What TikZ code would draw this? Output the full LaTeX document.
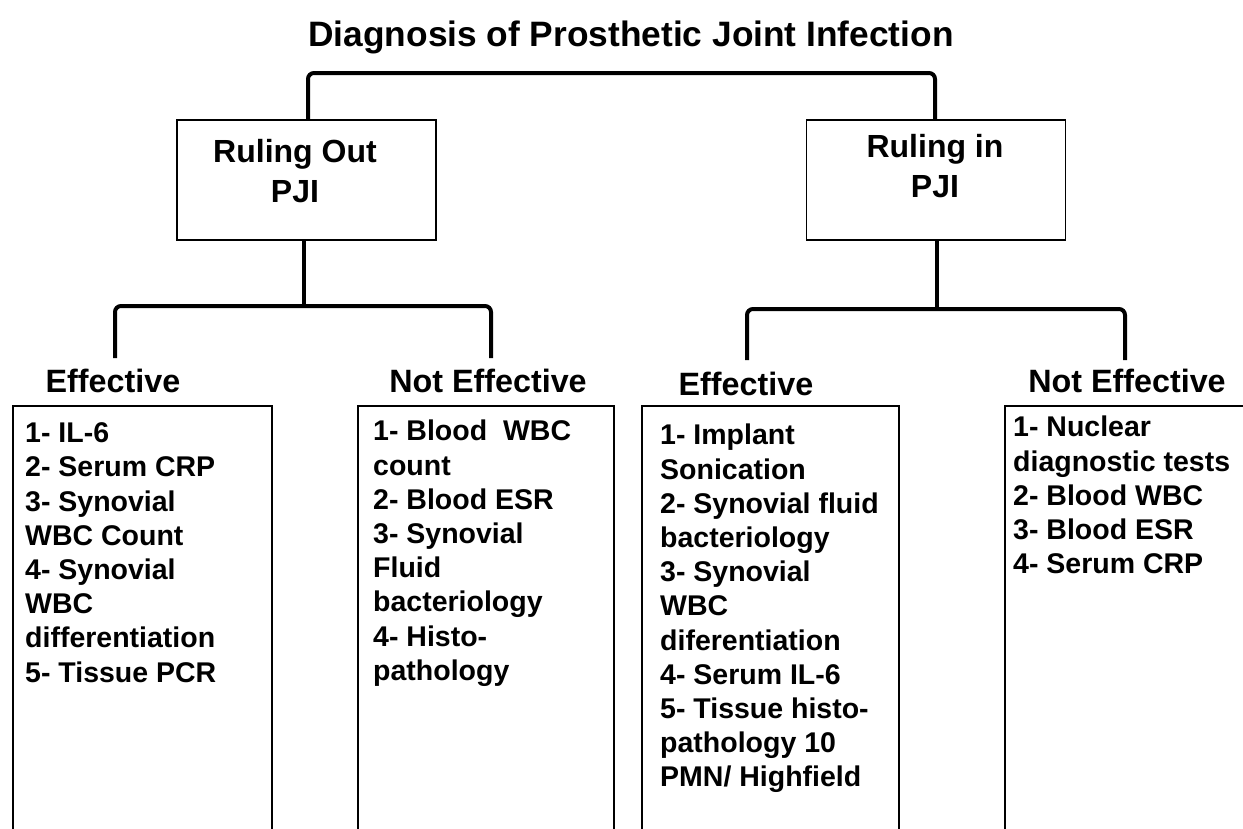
\documentclass[tikz,border=0pt]{standalone}
\usepackage{fontspec}
\setmainfont[Ligatures=NoCommon]{Liberation Sans}
\begin{document}
\begin{tikzpicture}[x=1pt,y=-1pt,
  conn/.style={line width=4pt,rounded corners=6pt},
  rulebox/.style={draw,line width=1.3pt,inner sep=0pt,minimum width=259pt,minimum height=120pt},
  ruletext/.style={inner sep=0pt,anchor=north,align=center,font=\fontsize{32}{40}\selectfont\bfseries},
  heading/.style={inner sep=0pt,anchor=base,font=\fontsize{32.3}{38}\selectfont\bfseries},
  listbox/.style={draw,line width=1.3pt},
  listtext/.style={anchor=north west,align=left,inner sep=0pt,font=\fontsize{28.5}{34.2}\selectfont\bfseries}]
\clip (0,0) rectangle (1243,828);
\fill[white] (0,0) rectangle (1243,828);
% title
\node[inner sep=0pt,font=\fontsize{35.3}{40}\selectfont\bfseries] (title) at (631,37) {Diagnosis of Prosthetic Joint Infection};
% ruling boxes
\node[rulebox] (out) at (306.5,180) {};
\node[ruletext] (outt) at (295,139.6) {Ruling Out\\PJI};
\node[rulebox] (in) at (936,180) {};
\node[ruletext] (intt) at (935,134.6) {Ruling in\\PJI};
% top bracket
\coordinate (tl) at (308,73);
\coordinate (tr) at (935,73);
\draw[conn] (out.north -| tl) -- (tl) -- (tr) -- (in.north -| tr);
% headings
\node[heading] (effL) at (113,392) {Effective};
\node[heading] (neL) at (488,392) {Not Effective};
\node[heading] (effR) at (746,395) {Effective};
\node[heading] (neR) at (1127,392) {Not Effective};
% lower brackets
\coordinate (bl) at (304,306);
\coordinate (br) at (937,309);
\draw[conn,rounded corners=0pt] (out.south -| bl) -- (bl);
\coordinate (bl1) at (115,358);
\coordinate (bl2) at (491,358);
\draw[conn] (bl1) -- (bl -| bl1) -- (bl -| bl2) -- (bl2);
\draw[conn,rounded corners=0pt] (in.south -| br) -- (br);
\coordinate (br1) at (747,360);
\coordinate (br2) at (1125,360);
\draw[conn] (br1) -- (br -| br1) -- (br -| br2) -- (br2);
% list boxes
\draw[listbox] (13,406) rectangle (272,860);
\draw[listbox] (358,406) rectangle (614,860);
\draw[listbox] (642,406) rectangle (899,860);
\draw[listbox] (1005,406) rectangle (1263,860);
\node[listtext] (l1) at (25,422.6) {1- IL-6\\2- Serum CRP\\3- Synovial\\WBC Count\\4- Synovial\\WBC\\differentiation\\5- Tissue PCR};
\node[listtext] (l2) at (373,420) {1- Blood\ \ WBC\\count\\2- Blood ESR\\3- Synovial\\Fluid\\bacteriology\\4- Histo-\\pathology};
\node[listtext] (l3) at (660,424) {1- Implant\\Sonication\\2- Synovial fluid\\bacteriology\\3- Synovial\\WBC\\diferentiation\\4- Serum IL-6\\5- Tissue histo-\\pathology 10\\PMN/ Highfield};
\node[listtext] (l4) at (1013,416) {1- Nuclear\\diagnostic tests\\2- Blood WBC\\3- Blood ESR\\4- Serum CRP};
\end{tikzpicture}
\end{document}
